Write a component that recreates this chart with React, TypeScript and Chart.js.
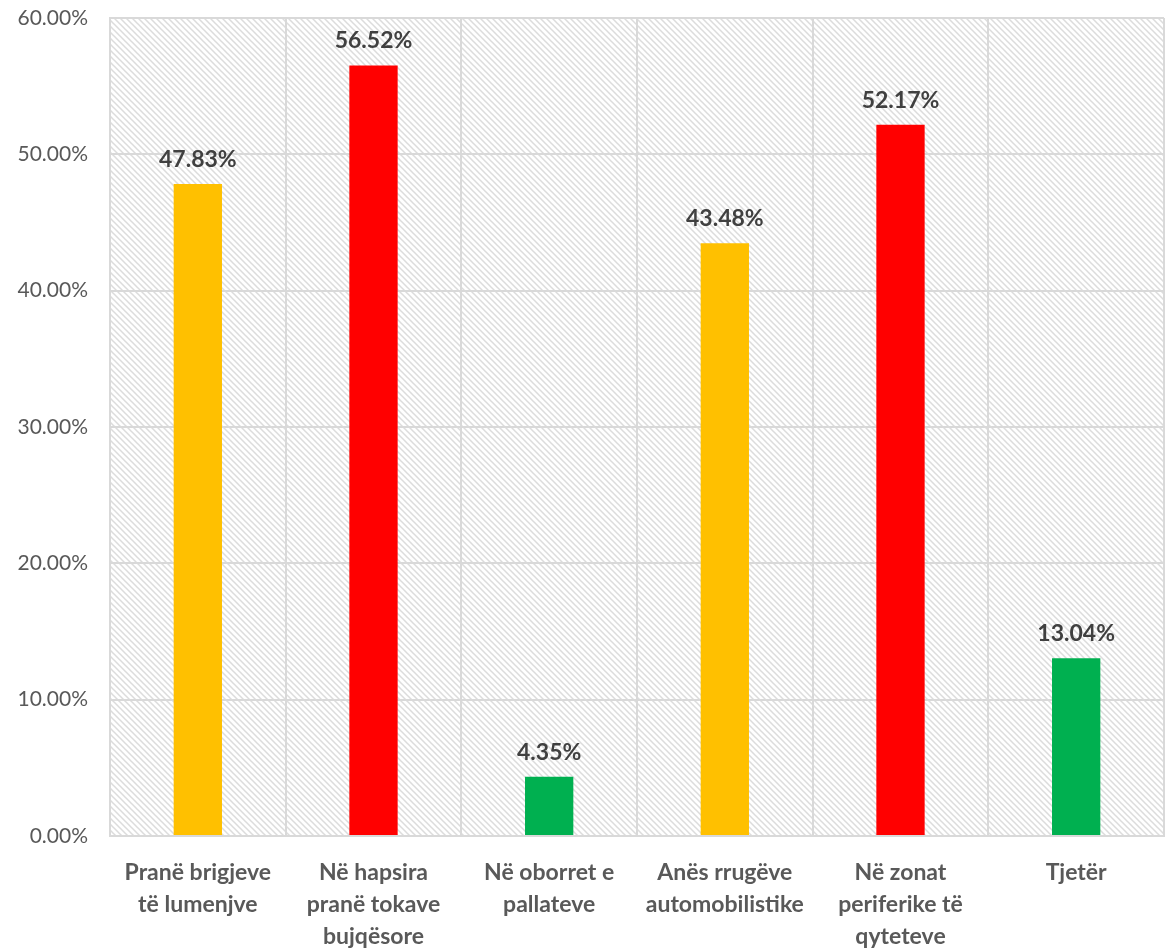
import React, { useEffect, useRef } from "react";
import { Chart, registerables } from "chart.js";

Chart.register(...registerables);

const categories: string[][] = [
  ["Pranë brigjeve", "të lumenjve"],
  ["Në hapsira", "pranë tokave", "bujqësore"],
  ["Në oborret e", "pallateve"],
  ["Anës rrugëve", "automobilistike"],
  ["Në zonat", "periferike të", "qyteteve"],
  ["Tjetër"],
];
const values: number[] = [47.83, 56.52, 4.35, 43.48, 52.17, 13.04];
const barColors: string[] = ["#FFC000", "#FF0000", "#00B050", "#FFC000", "#FF0000", "#00B050"];
const yMin = 0;
const yMax = 60;
const yStep = 10;

const FONT = "Lato, 'Open Sans', 'DejaVu Sans', sans-serif";

function makePattern(ctx0: CanvasRenderingContext2D): CanvasPattern | string {
  const c = document.createElement("canvas");
  c.width = 6;
  c.height = 6;
  const ctx = c.getContext("2d");
  if (!ctx) return "#fff";
  ctx.fillStyle = "#ffffff";
  ctx.fillRect(0, 0, 6, 6);
  ctx.strokeStyle = "#dcdcdc";
  ctx.lineWidth = 1.5;
  ctx.beginPath();
  ctx.moveTo(-1, -1);
  ctx.lineTo(7, 7);
  ctx.moveTo(-4, 2);
  ctx.lineTo(4, 10);
  ctx.moveTo(2, -4);
  ctx.lineTo(10, 4);
  ctx.stroke();
  const p = ctx0.createPattern(c, "repeat");
  return p || "#fff";
}

const bgPlugin = {
  id: "hatchBg",
  beforeDraw(chart: any) {
    const { ctx, chartArea } = chart;
    if (!chartArea) return;
    ctx.save();
    ctx.fillStyle = makePattern(ctx);
    ctx.fillRect(chartArea.left, chartArea.top, chartArea.right - chartArea.left, chartArea.bottom - chartArea.top);
    ctx.restore();
  },
};

const labelPlugin = {
  id: "valueLabels",
  afterDatasetsDraw(chart: any) {
    const { ctx } = chart;
    const meta = chart.getDatasetMeta(0);
    ctx.save();
    ctx.font = `bold 23px ${FONT}`;
    ctx.fillStyle = "#404040";
    ctx.textAlign = "center";
    ctx.textBaseline = "alphabetic";
    meta.data.forEach((bar: any, i: number) => {
      ctx.fillText(values[i].toFixed(2) + "%", bar.x, bar.y - 17);
    });
    ctx.restore();
  },
};

export default function App() {
  const ref = useRef<HTMLCanvasElement | null>(null);
  useEffect(() => {
    if (!ref.current) return;
    const chart = new Chart(ref.current, {
      type: "bar",
      data: {
        labels: categories,
        datasets: [
          {
            data: values,
            backgroundColor: barColors,
            barPercentage: 0.275,
            categoryPercentage: 1,
          },
        ],
      },
      options: {
        animation: false,
        responsive: false,
        maintainAspectRatio: false,
        layout: { padding: { top: 18, right: 1, left: 0, bottom: 0 } },
        plugins: { legend: { display: false }, tooltip: { enabled: false } },
        scales: {
          x: {
            grid: { color: "#d9d9d9", lineWidth: 2, offset: true, drawTicks: false },
            border: { color: "#d9d9d9", width: 2 },
            ticks: {
              color: "#595959",
              font: { family: FONT, size: 23, weight: "bold", lineHeight: 1.39 },
              padding: 21,
              maxRotation: 0,
              autoSkip: false,
            },
            afterFit(scale: any) {
              scale.height = 114;
              scale.paddingLeft = 0;
              scale.paddingRight = 0;
            },
          },
          y: {
            min: yMin,
            max: yMax,
            grid: { color: "#d9d9d9", lineWidth: 2, drawTicks: false },
            border: { color: "#d9d9d9", width: 2 },
            ticks: {
              stepSize: yStep,
              color: "#595959",
              font: { family: FONT, size: 21 },
              padding: 22,
              callback: (v: any) => Number(v).toFixed(2) + "%",
            },
            afterFit(scale: any) {
              scale.width = 110;
              scale.paddingTop = 0;
              scale.paddingBottom = 0;
            },
          },
        },
      },
      plugins: [bgPlugin, labelPlugin],
    });
    return () => chart.destroy();
  }, []);
  return (
    <div style={{ position: "absolute", left: 0, top: 0, width: 1165, height: 950, background: "#fff" }}>
      <canvas ref={ref} width={1165} height={950} style={{ display: "block" }} />
    </div>
  );
}
